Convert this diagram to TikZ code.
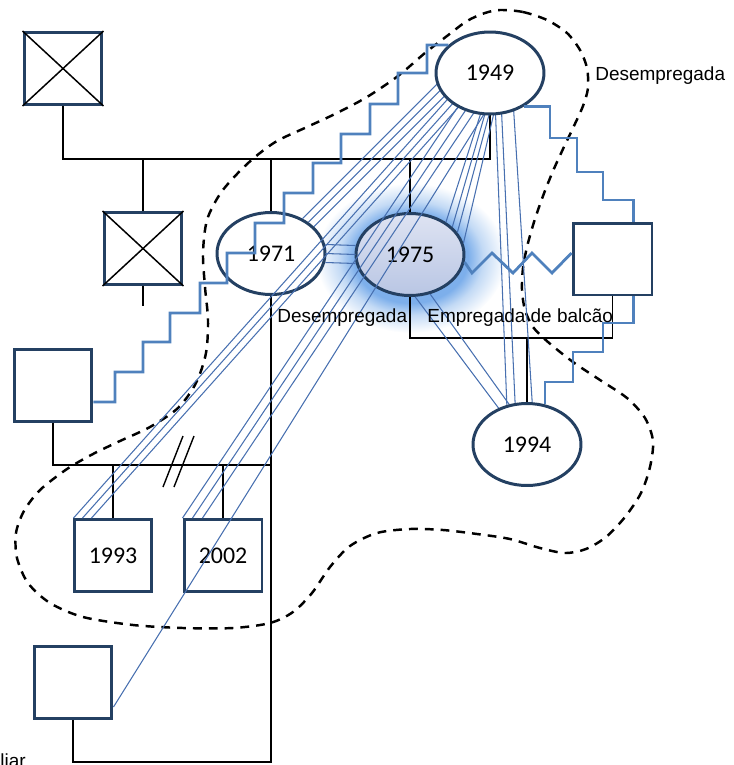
\documentclass[tikz,border=0pt]{standalone}
\usepackage{fontspec}
\setmainfont{Liberation Sans}
\newfontfamily\numfont{Carlito}
\usetikzlibrary{shapes.geometric,calc}
\definecolor{navy}{RGB}{36,64,98}
\definecolor{relblue}{RGB}{79,129,189}
\definecolor{thinblue}{RGB}{72,112,176}
\definecolor{glowc}{RGB}{125,175,235}
\definecolor{glowm}{RGB}{195,218,245}
\definecolor{fillA}{RGB}{222,227,242}
\definecolor{fillB}{RGB}{185,198,228}
\pgfdeclareradialshading{glowshade}{\pgfpoint{0bp}{0bp}}{color(0bp)=(glowc); color(15bp)=(glowc); color(19bp)=(glowm); color(25bp)=(white); color(50bp)=(white)}
\pgfdeclarelayer{bg}
\pgfdeclarelayer{thin}
\pgfdeclarelayer{front}
\pgfsetlayers{bg,main,thin,front}

\begin{document}
\begin{tikzpicture}[x=0.02cm,y=-0.02cm,
  person/.style={draw=navy,line width=1.7pt,fill=white,inner sep=0pt,
    minimum width=1.56cm,minimum height=1.44cm,
    font=\numfont\fontsize{13.6}{16}\selectfont},
  female/.style={person,ellipse,minimum width=2.16cm,minimum height=1.64cm},
  kin/.style={line width=1.1pt,black},
  cross/.style={line width=0.85pt,black},
  bond/.style={line width=1.6pt,relblue,line join=miter},
  tie/.style={line width=0.6pt,thinblue},
  boundary/.style={line width=1.4pt,dash pattern=on 5pt off 4pt},
  note/.style={font=\fontsize{10.8}{13}\selectfont,inner sep=0pt}]

\useasboundingbox (0,0) rectangle (734,765);

% soft halo behind the highlighted person
\begin{pgfonlayer}{bg}
  \shade[shading=glowshade] (411,258) ellipse (1.9cm and 1.5cm);
\end{pgfonlayer}

% people
\node[person] (f1) at (63,68.5) {};
\node[person] (f2) at (143,248.5) {};
\node[person] (lsq) at (53,385.5) {};
\node[person] (n1993) at (113,555.5) {1993};
\node[person] (n2002) at (223,555.5) {2002};
\node[person] (bsq) at (73,682.5) {};
\node[person,minimum width=1.58cm] (rsq) at (612.5,259) {};
\node[female] (n1971) at (271,253.5) {1971};
\node[female,top color=fillA,bottom color=fillB] (n1975) at (410,254.5) {1975};
\begin{pgfonlayer}{front}
  \node[female] (n1949) at (490,73) {1949};
  \node[female] (n1994) at (527,444.5) {1994};
\end{pgfonlayer}

% deceased marks
\draw[cross] (f1.north west) -- (f1.south east) (f1.north east) -- (f1.south west);
\draw[cross] (f2.north west) -- (f2.south east) (f2.north east) -- (f2.south west);

% family structure
\coordinate (m1) at (0,159);
\coordinate (m2) at (0,465);
\coordinate (m3) at (0,338);
\coordinate (m4) at (0,762);
\draw[kin] (f1.south) |- (m1 -| n1949.south) -- (n1949.south);
\draw[kin] (f2.north) -- (f2.north |- m1);
\draw[kin] (n1971.north) -- (n1971.north |- m1);
\draw[kin] (n1975.north) -- (n1975.north |- m1);
\draw[kin] (f2.south) -- ++(0,20);
\draw[kin] (lsq.south) |- (m2 -| n1971.south);
\draw[kin] (n1971.south) |- (bsq.south |- m4) -- (bsq.south);
\draw[kin] (n1993.north) -- (n1993.north |- m2);
\draw[kin] (n2002.north) -- (n2002.north |- m2);
\draw[kin] (n1975.south) |- (rsq.south |- m3) -- (rsq.south);
\draw[kin] (n1994.north) -- (n1994.north |- m3);
\draw[line width=0.8pt] (163,487) -- (183,436) (174,487) -- (194,436);

% household boundary
\draw[boundary] plot[smooth cycle] coordinates {
  (500,10) (523,12) (547,20) (567,33) (580,50) (587,68) (588,88) (583,106)
  (573,128) (563,149) (553,171) (543,196) (534,222) (527,247) (523,268)
  (522,290) (525,310) (533,327) (548,342) (573,362) (600,380) (627,398)
  (645,418) (653,441) (650,467) (641,493) (625,517) (606,537) (586,549)
  (565,553) (540,548) (510,539) (477,534) (443,530) (410,529) (377,533)
  (350,546) (330,567) (312,593) (293,612) (270,623) (233,628) (183,628)
  (133,625) (83,617) (50,603) (28,583) (17,558) (16,533) (24,511) (40,490)
  (67,469) (93,454) (120,441) (150,427) (178,408) (196,383) (206,353)
  (208,320) (205,287) (203,253) (207,220) (220,194) (237,174) (255,157)
  (277,141) (307,127) (337,113) (367,97) (398,76) (425,53) (447,36)
  (467,21) (485,13)};

% close ties
\begin{pgfonlayer}{thin}
  \foreach \d in {1,10,19}
    \draw[tie] ($(n1993.north west)+(\d,0)$) -- ++(393,-440);
  \foreach \d in {0,10,20}
    \draw[tie] ($(n2002.north west)+(\d,0)$) -- ++(288,-430);
  \draw[tie] ($(bsq.east)+(0,24.5)$) -- ++(387.5,-620);
  \foreach \a in {48,40,32}
    \draw[tie] (n1971.\a) -- ++(150,-150);
  \draw[tie] (n1975.42) -- ($(n1949.center)+(-5,27)$);
  \draw[tie] (n1975.33) -- ($(n1949.center)+(-1,27)$);
  \draw[tie] (n1975.25) -- ($(n1949.center)+(3,27)$);
  \draw[tie] (n1975.12) -- ($(n1949.center)+(7,27)$);
  \draw[tie] ($(n1949.center)+(5,27)$) -- (n1994.117);
  \draw[tie] ($(n1949.center)+(11,27)$) -- (n1994.106);
  \draw[tie] ($(n1949.center)+(23,27)$) -- (n1994.83);
  \draw[tie] (n1975.-83) -- (n1994.128);
  \draw[tie] (n1975.-63) -- (n1994.114);
  \foreach \o in {-9,0,9}
    \draw[tie] ($(n1971.east)+(-1,\o)$) -- ($(n1975.west)+(1,\o)$);
\end{pgfonlayer}

\begin{pgfonlayer}{front}
  % distant relationships
  \draw[bond] (n1949.146) -- (427,45) -- (427,73) -- (398,73) -- (398,104)
    -- (370,104) -- (370,134) -- (341,134) -- (341,163) -- (313,163)
    -- (313,193) -- (284,193) -- (284,223) -- (255,223) -- (255,253)
    -- (227,253) -- (227,283) -- (200,283) -- (200,313) -- (170,313)
    -- (170,342) -- (143,342) -- (143,372) -- (115,372) -- (115,402)
    -- ($(lsq.east)+(0,16.5)$);
  \draw[bond] (n1949.-45) -| (550,138) -| (577,172) -| (603,200)
    -| ($(rsq.north east)+(-20,0)$);
  \draw[bond] ($(rsq.south east)+(-20,0)$) |- (603,323) |- (573,352)
    |- (545,382) -- (545,382 |- n1994.66);
  % conflict
  \draw[bond] (n1975.-8) -- (472,273) -- (492,253) -- (513,273) -- (532,253)
    -- (552,273) -- ($(rsq.west)+(0,-6)$);

  % occupations
  \node[note,anchor=base west] (lab1949) at (595,80) {Desempregada};
  \node[note,anchor=base west] (lab1971) at (277,322) {Desempregada};
  \node[note,anchor=base west] (lab1975) at (427,322) {Empregada de balcão};
  \node[note,anchor=base west] (labfam) at (0,767) {liar};
\end{pgfonlayer}
\end{tikzpicture}
\end{document}
